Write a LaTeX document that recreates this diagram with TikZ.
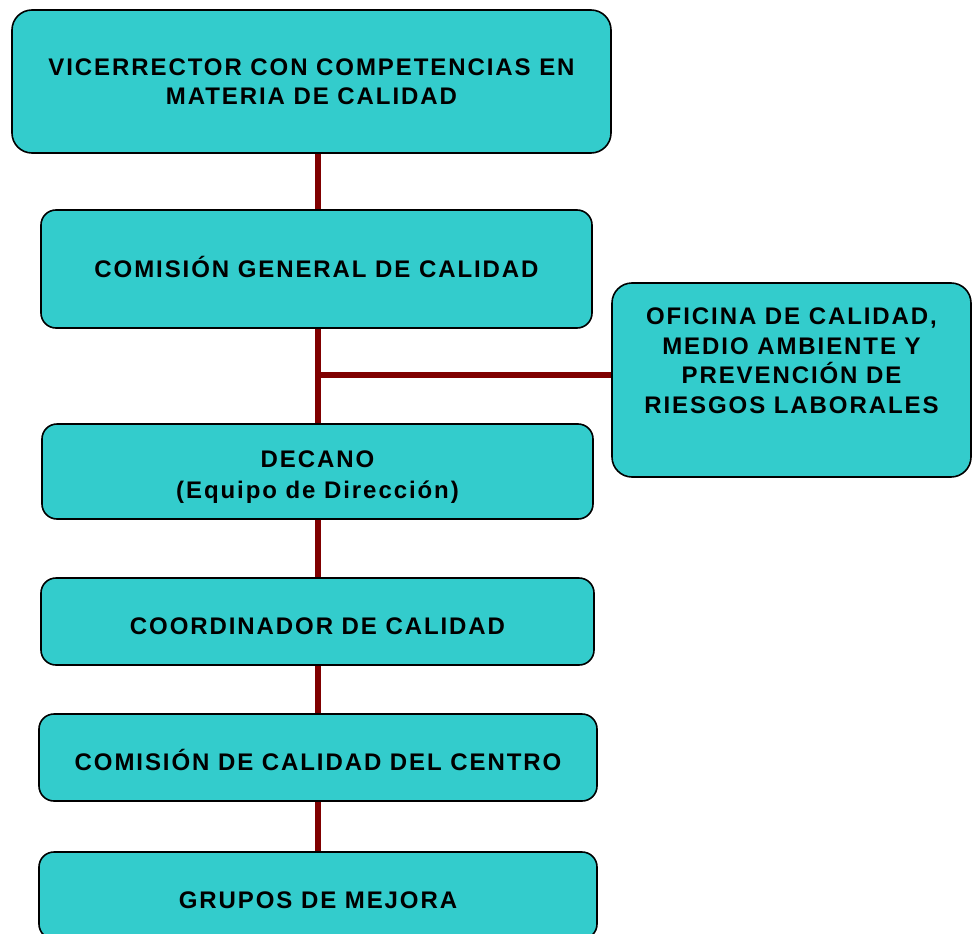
\documentclass[tikz,border=0pt]{standalone}
\usepackage{fontspec}
\setmainfont{Liberation Sans}[LetterSpace=8]
\definecolor{boxcyan}{HTML}{33CCCC}
\definecolor{linkred}{HTML}{800000}
\tikzstyle{boxtext}=[align=center,font=\fontsize{24}{29.5}\selectfont\bfseries,inner sep=0]
\tikzstyle{box}=[boxtext,draw=black,line width=1.6,fill=boxcyan,rounded corners=15]
\tikzstyle{oneline}=[text height=31,text depth=6]
\tikzstyle{link}=[line width=5.5,linkred]

\begin{document}
\begin{tikzpicture}[x=1pt,y=-1pt]
  \clip (0,0) rectangle (973,933);
  \def\X{318} % spine x position
  \def\B{375} % branch y position

  % LINES
  \coordinate (spine) at (\X,\B);

  % BOXES
  \node[box,minimum width=599,minimum height=143,rounded corners=20] (vice) at (311.5,81.5)
    {VICERRECTOR CON COMPETENCIAS EN\\MATERIA DE CALIDAD};
  \node[box,text height=23.2,text depth=6,minimum width=551,minimum height=118] (cgc) at (316.5,269)
    {COMISIÓN GENERAL DE CALIDAD};
  \node[box,minimum width=359,minimum height=194,rounded corners=20,
        label={[boxtext,anchor=north,yshift=-25.5]north:{OFICINA DE CALIDAD,\\MEDIO AMBIENTE Y\\PREVENCIÓN DE\\RIESGOS LABORALES}}] (ofi) at (791.5,380) {};
  \node[box,minimum width=551,minimum height=95] (dec) at (317.5,471.5)
    {\rule{0pt}{27pt}DECANO\\[1.5pt](Equipo de Dirección)};
  \node[box,oneline,minimum width=553,minimum height=87] (coo) at (317.5,621.5)
    {COORDINADOR DE CALIDAD};
  \node[box,oneline,minimum width=558,minimum height=87] (ccc) at (318,757.5)
    {COMISIÓN DE CALIDAD DEL CENTRO};
  \node[box,oneline,minimum width=558,minimum height=87] (gru) at (318,895.5)
    {GRUPOS DE MEJORA};

  % CONNECTORS
  \draw[link] (vice.south -| spine) -- (cgc.north -| spine);
  \draw[link] (cgc.south -| spine) -- (dec.north -| spine);
  \draw[link] (spine) -- (spine -| ofi.west);
  \draw[link] (dec.south -| spine) -- (coo.north -| spine);
  \draw[link] (coo.south -| spine) -- (ccc.north -| spine);
  \draw[link] (ccc.south -| spine) -- (gru.north -| spine);

\end{tikzpicture}
\end{document}
